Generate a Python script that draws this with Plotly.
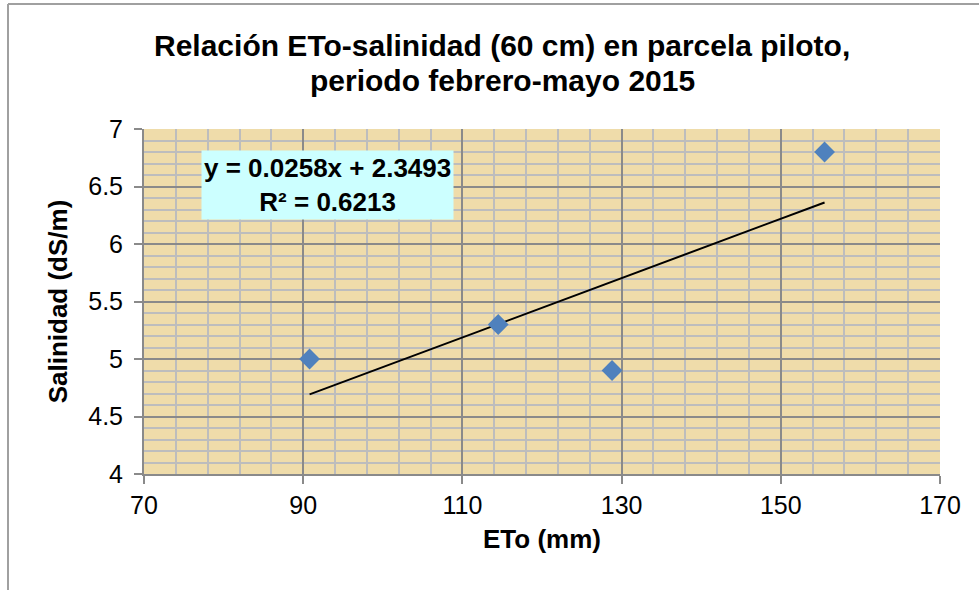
import plotly.graph_objects as go

# ETo (mm) vs. soil salinity at 60 cm, pilot plot, Feb–May 2015
eto_mm = [90.8, 114.5, 128.8, 155.5]
salinidad = [5.0, 5.3, 4.9, 6.8]

# linear trend as reported in the equation label
slope = 0.0258
intercept = 2.3493
r2 = 0.6213

x_ticks = [70, 90, 110, 130, 150, 170]
y_ticks = [4, 4.5, 5, 5.5, 6, 6.5, 7]
y_tick_text = ["4", "4.5", "5", "5.5", "6", "6.5", "7"]

title_lines = ["Relación ETo-salinidad (60 cm) en parcela piloto,",
               "periodo febrero-mayo 2015"]

trend_x = [min(eto_mm), max(eto_mm)]
trend_y = [slope * v + intercept for v in trend_x]

FONT = "Liberation Sans, Arial, sans-serif"

W, H = 979, 590
L, R, T, B = 144, 39, 129, 116
pw, ph = W - L - R, H - T - B


def px_x(p):
    return (p - L) / pw


def px_y(p):
    return (H - B - p) / ph


fig = go.Figure()

fig.add_trace(go.Scatter(
    x=trend_x, y=trend_y, mode="lines",
    line=dict(color="black", width=2),
    hoverinfo="skip", showlegend=False,
))

fig.add_trace(go.Scatter(
    x=eto_mm, y=salinidad, mode="markers",
    marker=dict(symbol="diamond", size=16, color="#4f81bd",
                line=dict(width=0)),
    showlegend=False,
))

fig.add_annotation(
    x=93.1, y=6.51, xref="x", yref="y",
    text=f"y = {slope}x + {intercept}<br>R² = {r2}",
    showarrow=False,
    font=dict(family=FONT, size=26, color="black", weight="bold"),
    bgcolor="#ccffff", borderpad=2, align="center",
)

# two-line chart title
for line, cy in zip(title_lines, [45, 80]):
    fig.add_annotation(
        x=px_x(502), y=px_y(cy), xref="paper", yref="paper",
        xanchor="center", yanchor="middle", showarrow=False,
        text=line,
        font=dict(family=FONT, size=30, color="black", weight="bold"),
    )

# outer chart frame (top and left edges)
fig.add_shape(type="line", xref="paper", yref="paper",
              x0=px_x(8), x1=px_x(990), y0=px_y(4), y1=px_y(4),
              line=dict(color="#a0a0a0", width=2))
fig.add_shape(type="line", xref="paper", yref="paper",
              x0=px_x(8), x1=px_x(8), y0=px_y(4), y1=px_y(600),
              line=dict(color="#a0a0a0", width=2))

fig.update_layout(
    width=W, height=H,
    margin=dict(l=L, r=R, t=T, b=B),
    paper_bgcolor="white",
    plot_bgcolor="#efdcaa",
    font=dict(family=FONT, color="black"),
)

fig.update_xaxes(
    range=[70, 170], tickvals=x_ticks,
    tickfont=dict(family=FONT, size=25, color="black"),
    showgrid=True, gridcolor="#8a8a8a", gridwidth=2,
    minor=dict(dtick=4, tick0=70, showgrid=True, gridcolor="#bdbdbd",
               gridwidth=2),
    showline=True, linecolor="#8a8a8a", linewidth=2,
    ticks="outside", ticklen=8, tickcolor="#8a8a8a", tickwidth=2,
    zeroline=False,
    title=dict(text="ETo (mm)", standoff=12,
               font=dict(family=FONT, size=26, color="black", weight="bold")),
)

fig.update_yaxes(
    range=[4, 7], tickvals=y_ticks, ticktext=y_tick_text,
    tickfont=dict(family=FONT, size=25, color="black"),
    showgrid=True, gridcolor="#8a8a8a", gridwidth=2,
    minor=dict(dtick=0.1, tick0=4, showgrid=True, gridcolor="#bdbdbd",
               gridwidth=2),
    showline=True, linecolor="#8a8a8a", linewidth=2,
    ticks="outside", ticklen=8, tickcolor="#8a8a8a", tickwidth=2,
    ticklabelstandoff=6,
    zeroline=False,
    title=dict(text="Salinidad (dS/m)", standoff=13,
               font=dict(family=FONT, size=26, color="black", weight="bold")),
)

fig.write_html("out.html")
